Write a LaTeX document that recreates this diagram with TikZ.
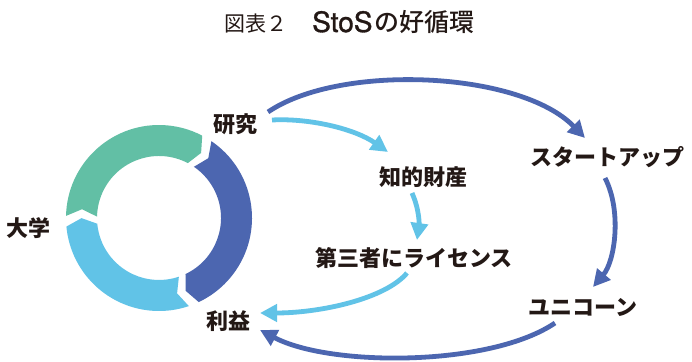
\documentclass[tikz,border=0pt]{standalone}
\usepackage{fontspec}
\usetikzlibrary{arrows.meta}
\newfontfamily\jp{Noto Sans CJK JP}
\newfontfamily\jpm{Noto Sans CJK JP Medium}
\newfontfamily\lat[FakeBold=1.2]{TeX Gyre Heros}
\definecolor{ringgreen}{HTML}{62BFA5}
\definecolor{darkblue}{HTML}{4C66B0}
\definecolor{lightblue}{HTML}{61C3E7}
\definecolor{ink}{HTML}{231815}
\tikzset{
  lbl/.style={font=\jp\bfseries\fontsize{22}{24}\selectfont, text=ink, inner sep=0pt},
  darkarrow/.style={draw=darkblue, line width=4.8pt, -{Triangle[length=17pt,width=17pt]}},
  lightarrow/.style={draw=lightblue, line width=4.8pt, -{Triangle[length=17pt,width=17pt]}},
}
\newcommand{\ringseg}[3]{%
  \pgfmathsetmacro{\sa}{#1}\pgfmathsetmacro{\eb}{#2}%
  \pgfmathsetmacro{\tipb}{#2-5.2}\pgfmathsetmacro{\tipa}{#1-5.2}%
  \fill[#3] (\sa:93) arc[start angle=\sa, end angle=\eb, radius=93] -- (\tipb:77.5) -- (\eb:62)
    arc[start angle=\eb, end angle=\sa, radius=62] -- (\tipa:77.5) -- cycle;}
\begin{document}
\begin{tikzpicture}[x=1pt,y=1pt]
\useasboundingbox (0,0) rectangle (692,361);
\fill[white] (0,0) rectangle (692,361);
% title
\node[text=ink, inner sep=0pt, anchor=base west] (title) at (224,329)
  {{\jp\fontsize{21}{24}\selectfont 図表２}\hspace{25pt}{\lat\fontsize{28}{30}\selectfont StoS}\hspace{2pt}{\jpm\fontsize{25}{28}\selectfont の好循環}};
% ring
\begin{scope}[shift={(159,143)}]
\ringseg{178.7}{62.3}{ringgreen}
\ringseg{55.7}{-64.7}{darkblue}
\ringseg{-71.3}{-174.7}{lightblue}
\end{scope}
% labels
\node[lbl] (kenkyu) at (235,237) {研究};
\node[lbl] (daigaku) at (28,133) {大学};
\node[lbl] (rieki) at (228,40) {利益};
\node[lbl] (chizai) at (423,184) {知的財産};
\node[lbl] (license) at (414,103) {第三者にライセンス};
\node[lbl] (startup) at (607,204) {スタートアップ};
\node[lbl] (unicorn) at (583,54) {ユニコーン};
% anchor coordinates
\coordinate (k1) at (268,249);
\coordinate (k2) at (272,241);
\coordinate (c1) at (412,168);
\coordinate (l1) at (407,88);
\coordinate (s1) at (605,183);
\coordinate (u1) at (555,38);
\coordinate (startupin) at (585,223);
\coordinate (chizaiin) at (388,209);
\coordinate (licensein) at (417,121);
\coordinate (riekiin1) at (260,48);
\coordinate (unicornin) at (593,74);
\coordinate (riekiin2) at (260,31);
% arrows
\draw[darkarrow] (k1) .. controls (340,298) and (520,290) .. (startupin);
\draw[lightarrow] (k2) .. controls (310,243) and (355,232) .. (chizaiin);
\draw[lightarrow] (c1) .. controls (420,150) and (419,135) .. (licensein);
\draw[lightarrow] (l1) .. controls (385,62) and (320,48) .. (riekiin1);
\draw[darkarrow] (s1) .. controls (622,150) and (615,100) .. (unicornin);
\draw[darkarrow] (u1) .. controls (490,-6) and (330,-6) .. (riekiin2);
\end{tikzpicture}
\end{document}
